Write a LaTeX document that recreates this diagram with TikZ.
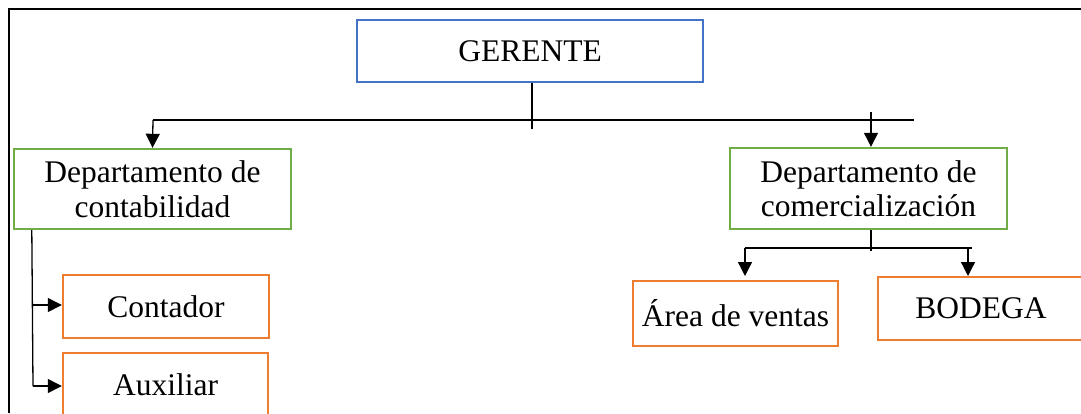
\documentclass[tikz,border=0pt]{standalone}
\usepackage{fontspec}
\setmainfont{Liberation Serif}
\usetikzlibrary{arrows.meta,calc}
\definecolor{cblue}{HTML}{4472C4}
\definecolor{cgreen}{HTML}{70AD47}
\definecolor{corange}{HTML}{ED7D31}
\tikzset{
  box/.style={draw, rectangle, line width=2.4pt, inner sep=0pt, align=center,
    font=\fontsize{31.5}{34.5}\selectfont},
  lvl0/.style={box, draw=cblue},
  lvl1/.style={box, draw=cgreen},
  lvl2/.style={box, draw=corange},
  conn/.style={line width=1.3pt, black},
  arr/.style={conn, -{Triangle[width=14pt,length=14pt]}},
}
\begin{document}
\begin{tikzpicture}[x=1pt,y=-1pt]
\useasboundingbox (0,0) rectangle (1081,413);
% frame
\draw[line width=2pt] (8.5,413) -- (8.5,8.5) -- (1081,8.5);
% nodes
\node[lvl0, minimum width=346pt, minimum height=62pt] (gerente) at (530,51) {GERENTE};
\node[lvl1, minimum width=277pt, minimum height=80pt] (contab) at (152.5,189) {Departamento de\\contabilidad};
\node[lvl1, minimum width=277pt, minimum height=81pt] (comerc) at (868.5,188.5) {Departamento de\\comercialización};
\node[lvl2, minimum width=206pt, minimum height=63pt] (contador) at (166,306.5) {Contador};
\node[lvl2, minimum width=205pt, minimum height=63pt] (auxiliar) at (165.5,384.5) {Auxiliar};
\node[lvl2, minimum width=205pt, minimum height=65pt] (ventas) at (735.5,313.5) {Área de ventas};
\node[lvl2, minimum width=206pt, minimum height=63pt] (bodega) at (981,308.5) {BODEGA};
% top level connectors
\coordinate (gdown) at ($(gerente.south)+(2,0)$);
\draw[conn] (gdown) -- ++(0,46);
\coordinate (hl) at (153,120);
\coordinate (hr) at (914,120);
\draw[conn] (hl) -- (hr);
\draw[arr] (hl) -- (contab.north);
\coordinate (cn) at ($(comerc.north)+(2.5,0)$);
\draw[arr] (cn |- 0,112) -- (cn);
% contabilidad branch
\coordinate (ct) at ($(contab.south west)+(19,0)$);
\coordinate (cb) at (33,386);
\draw[conn] (ct) -- (cb);
\draw[arr] (33,305) -- (33,305 -| contador.west);
\draw[arr] (cb) -- (cb -| auxiliar.west);
% comercializacion branch
\coordinate (ms) at ($(comerc.south)+(2.5,0)$);
\draw[conn] (ms) -- ++(0,21);
\coordinate (ml) at (745,248);
\coordinate (mr) at (972,248);
\draw[conn] (ml) -- (mr);
\draw[arr] (ml) -- (745,276);
\draw[arr] (968,248) -- (968,276);
\end{tikzpicture}
\end{document}
